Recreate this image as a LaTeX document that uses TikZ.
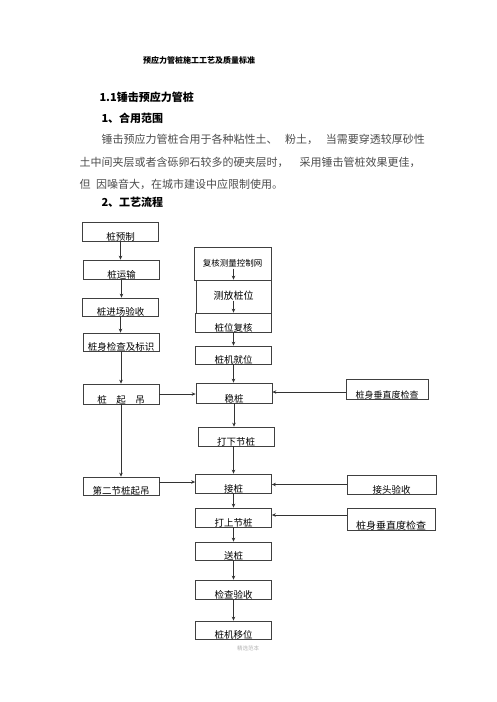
\documentclass[tikz,border=0pt]{standalone}
\usepackage{fontspec}
\setmainfont{Noto Sans CJK SC}
\usetikzlibrary{arrows.meta}

\begin{document}
\begin{tikzpicture}[x=1pt,y=-1pt,
    box/.style={draw=black!75,line width=0.7pt,inner sep=0pt,minimum width=76pt,
      minimum height=19pt,text height=18pt,text depth=0pt,font=\fontsize{9.5}{10}\selectfont},
    tall/.style={minimum height=33pt,text height=7pt,text depth=1pt},
    arr/.style={draw=black!80,line width=0.7pt,-{Stealth[length=4pt,width=3.5pt]}},
    head/.style={anchor=base west,font=\bfseries\fontsize{11}{13}\selectfont},
    para/.style={anchor=base west,text=black!70,font=\fontsize{11}{13}\selectfont}]
  \useasboundingbox (0,0) rectangle (496,702);
  % heading and text
  \node[anchor=base,font=\bfseries\fontsize{8}{9}\selectfont] (title) at (199,63) {预应力管桩施工工艺及质量标准};
  \node[head] (h1) at (96,101) {1.1锤击预应力管桩};
  \node[head] (h2) at (98,122) {1、合用范围};
  \node[para] (p1) at (98,143) {锤击预应力管桩合用于各种粘性土、\hspace{0.7em}粉土，\hspace{0.7em}当需要穿透较厚砂性};
  \node[para] (p2) at (76,166) {土中间夹层或者含砾卵石较多的硬夹层时，\hspace{1em}采用锤击管桩效果更佳，};
  \node[para] (p3) at (76,188) {但\hspace{0.5em}因噪音大，在城市建设中应限制使用。};
  \node[head] (h3) at (98,206) {2、工艺流程};
  % left column
  \node[box] (yuzhi) at (120.5,231.5) {桩预制};
  \node[box] (yunshu) at (121.5,269.5) {桩运输};
  \node[box,minimum height=18pt,text height=17pt] (jinchang) at (120.5,307) {桩进场验收};
  \node[box,minimum height=18pt,text height=17pt] (jiancha) at (121,342) {桩身检查及标识};
  \node[box,minimum height=20pt,text height=19pt] (qidiao) at (121,394) {桩\quad 起\quad 吊};
  \node[box,minimum height=18pt,text height=17pt] (dierjie) at (121,486) {第二节桩起吊};
  % center column
  \node[box,tall,minimum width=77pt,font=\fontsize{8.5}{9}\selectfont] (fuhe) at (232.5,263.5) {复核测量控制网};
  \node[box,tall,minimum width=75pt,font=\fontsize{10}{11}\selectfont] (cefang) at (233.5,296.5) {测放桩位};
  \node[box] (fuhewei) at (233.5,322.5) {桩位复核};
  \node[box,minimum height=18pt,text height=17pt] (jiuwei) at (233.5,355) {桩机就位};
  \node[box,minimum height=20pt,text height=19pt] (wenzhuang) at (234,393) {稳桩};
  \node[box] (daxia) at (236,436.5) {打下节桩};
  \node[box] (jiezhuang) at (233.5,483.5) {接桩};
  \node[box] (dashang) at (233.5,517.5) {打上节桩};
  \node[box,minimum height=18pt,text height=17pt] (songzhuang) at (233.5,551) {送桩};
  \node[box] (yanshou) at (233.5,589.5) {检查验收};
  \node[box,minimum height=18pt,text height=17pt] (yiwei) at (233.5,630) {桩机移位};
  % right column
  \node[box,minimum width=82pt,minimum height=20pt,text height=19pt,font=\fontsize{9}{10}\selectfont] (chuizhi) at (387,389) {桩身垂直度检查};
  \node[box,minimum width=89pt] (jietou) at (391.5,484.5) {接头验收};
  \node[box,minimum width=88pt,minimum height=22pt,text height=20pt,font=\fontsize{10}{11}\selectfont] (chuizhib) at (391,519) {桩身垂直度检查};
  \node[text=black!30,font=\fontsize{5.5}{6}\selectfont] (foot) at (248,648) {精选范本};
  % arrows
  \foreach \a/\b in {yuzhi/yunshu,yunshu/jinchang,jinchang/jiancha,jiancha/qidiao,qidiao/dierjie,
      fuhewei/jiuwei,jiuwei/wenzhuang,wenzhuang/daxia,jiezhuang/dashang,dashang/songzhuang,
      songzhuang/yanshou,yanshou/yiwei}
    \draw[arr] (\a.south) -- (\a.south |- \b.north);
  \draw[arr] (jiezhuang.north |- daxia.south) -- (jiezhuang.north);
  \draw[arr] ([yshift=11pt]cefang.north) -- (cefang.north);
  \draw[arr] ([yshift=12pt]fuhewei.north) -- (fuhewei.north);
  \draw[arr] (qidiao.east) -- (qidiao.east -| wenzhuang.west);
  \draw[arr] ([yshift=-3pt]chuizhi.west) -- ([yshift=-3pt]chuizhi.west -| wenzhuang.east);
  \draw[arr] ([yshift=4pt]dierjie.east) -- ([yshift=4pt]dierjie.east -| jiezhuang.west);
  \draw[arr] (jietou.west) -- (jietou.west -| jiezhuang.east);
  \draw[arr] ([yshift=4pt]chuizhib.west) -- ([yshift=4pt]chuizhib.west -| dashang.east);
\end{tikzpicture}
\end{document}
